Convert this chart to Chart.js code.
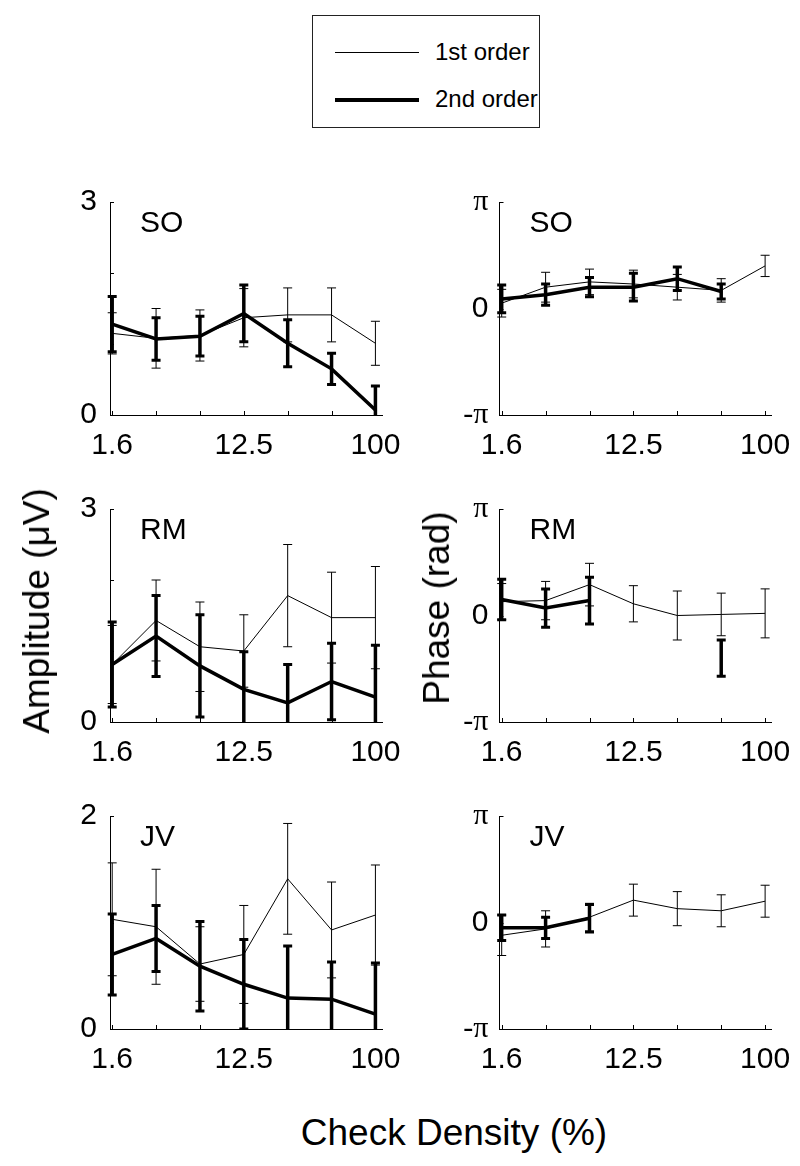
<!DOCTYPE html>
<html>
<head>
<meta charset="utf-8">
<script src="https://cdn.jsdelivr.net/npm/chart.js@4.4.0/dist/chart.umd.min.js"></script>
<style>
    body { margin: 0; background: #fff; font-family: "Liberation Sans", Arial, sans-serif; color: #000; }
    #page { position: relative; width: 800px; height: 1166px; overflow: hidden; }
    canvas.panel { position: absolute; }
    .legend { position: absolute; left: 312px; top: 15px; width: 228px; height: 113px; border: 1px solid #222; box-sizing: border-box; background: #fff; }
    .legend .ln { position: absolute; left: 22px; width: 84px; background: #000; }
    .legend .tx { position: absolute; left: 122px; font-size: 24px; line-height: 24px; white-space: nowrap; }
    .title { position: absolute; white-space: nowrap; transform: translate(-50%, -50%); }
    .title.rot { transform: translate(-50%, -50%) rotate(-90deg); }
</style>
</head>
<body>
<div id="page">
    <div class="legend">
        <div class="ln" style="top:36px; height:1px;"></div>
        <div class="tx" style="top:24px;">1st order</div>
        <div class="ln" style="top:82px; height:4px;"></div>
        <div class="tx" style="top:71px;">2nd order</div>
    </div>

    <canvas class="panel" id="p-so-amp"></canvas>
    <canvas class="panel" id="p-so-ph"></canvas>
    <canvas class="panel" id="p-rm-amp"></canvas>
    <canvas class="panel" id="p-rm-ph"></canvas>
    <canvas class="panel" id="p-jv-amp"></canvas>
    <canvas class="panel" id="p-jv-ph"></canvas>

    <div class="title rot" style="left:37px; top:611px; font-size:37px;">Amplitude (μV)</div>
    <div class="title rot" style="left:437px; top:608px; font-size:37px;">Phase (rad)</div>
    <div class="title" style="left:454px; top:1133px; font-size:37px;">Check Density (%)</div>
</div>

<script>
// x categories (check density, %) and which of them get a label
const densities = ['1.6', '3.1', '6.3', '12.5', '25', '50', '100'];
const shownTicks = ['1.6', '12.5', '100'];

// amplitude in microvolts, +/- error
const soAmp1 = [1.15, 1.08, 1.12, 1.37, 1.41, 1.41, 1.01];
const soAmp1Err = [0.29, 0.42, 0.36, 0.41, 0.38, 0.38, 0.31];
const soAmp2 = [1.28, 1.07, 1.11, 1.43, 1.01, 0.65, 0.07];
const soAmp2Err = [0.39, 0.30, 0.28, 0.40, 0.33, 0.22, 0.34];

const rmAmp1 = [0.81, 1.43, 1.06, 1.00, 1.78, 1.47, 1.47];
const rmAmp1Err = [0.55, 0.57, 0.63, 0.51, 0.72, 0.64, 0.72];
const rmAmp2 = [0.81, 1.21, 0.79, 0.46, 0.27, 0.57, 0.35];
const rmAmp2Err = [0.60, 0.57, 0.72, 0.53, 0.54, 0.54, 0.73];

const jvAmp1 = [1.03, 0.96, 0.61, 0.70, 1.41, 0.93, 1.07];
const jvAmp1Err = [0.53, 0.54, 0.35, 0.46, 0.52, 0.45, 0.47];
const jvAmp2 = [0.70, 0.85, 0.59, 0.42, 0.29, 0.28, 0.14];
const jvAmp2Err = [0.38, 0.31, 0.42, 0.42, 0.49, 0.35, 0.48];

// phase in units of pi
const soPh1 = [0.05, 0.20, 0.25, 0.23, 0.20, 0.17, 0.40];
const soPh1Err = [0.13, 0.14, 0.12, 0.13, 0.12, 0.11, 0.10];
const soPh2 = [0.09, 0.13, 0.20, 0.20, 0.28, 0.16, null];
const soPh2Err = [0.13, 0.10, 0.09, 0.13, 0.11, 0.07, null];

const rmPh1 = [0.13, 0.14, 0.29, 0.11, 0.00, 0.01, 0.02];
const rmPh1Err = [0.17, 0.18, 0.20, 0.17, 0.23, 0.20, 0.23];
const rmPh2 = [0.15, 0.07, 0.14, null, null, -0.40, null];
const rmPh2Err = [0.19, 0.18, 0.22, null, null, 0.17, null];

const jvPh1 = [-0.12, -0.06, 0.05, 0.21, 0.13, 0.11, 0.20];
const jvPh1Err = [0.19, 0.17, 0.13, 0.15, 0.16, 0.15, 0.15];
const jvPh2 = [-0.05, -0.05, 0.04, null, null, null, null];
const jvPh2Err = [0.12, 0.10, 0.13, null, null, null, null];

const ampTicks = { so: [0, 1, 2, 3], rm: [0, 1, 2, 3], jv: [0, 1, 2] };
const phaseTicks = [-1, 0, 1];
const phaseLabels = ['-π', '0', 'π'];

const FONT = '"Liberation Sans", Arial, sans-serif';
const SERIF = '"Liberation Serif", "Times New Roman", serif';

// error bars, inner tick marks and the subject label
const panelDecor = {
    id: 'panelDecor',
    afterDatasetsDraw(chart) {
        const { ctx, chartArea, scales: { x, y } } = chart;
        ctx.save();
        ctx.beginPath();
        ctx.rect(chartArea.left - 10, chartArea.top, chartArea.width + 20, chartArea.height);
        ctx.clip();
        ctx.strokeStyle = '#000';
        chart.data.datasets.forEach(ds => {
            ds.err.forEach((e, i) => {
                const v = ds.data[i].y;
                if (v === null || e === null) return;
                const px = x.getPixelForValue(i);
                const top = y.getPixelForValue(v + e);
                const bot = y.getPixelForValue(v - e);
                ctx.lineWidth = ds.borderWidth;
                ctx.beginPath();
                ctx.moveTo(px, top); ctx.lineTo(px, bot);
                ctx.stroke();
                ctx.lineWidth = ds.borderWidth > 2 ? 3 : 1;
                ctx.beginPath();
                ctx.moveTo(px - 4.5, top); ctx.lineTo(px + 4.5, top);
                ctx.moveTo(px - 4.5, bot); ctx.lineTo(px + 4.5, bot);
                ctx.stroke();
            });
        });
        ctx.restore();
    },
    afterDraw(chart) {
        const { ctx, chartArea, scales: { x, y } } = chart;
        ctx.save();
        ctx.strokeStyle = '#000';
        ctx.lineWidth = 1;
        ctx.beginPath();
        x.ticks.forEach(t => {
            const px = Math.round(x.getPixelForValue(t.value)) + 0.5;
            ctx.moveTo(px, chartArea.bottom); ctx.lineTo(px, chartArea.bottom - 4);
        });
        y.ticks.forEach(t => {
            const py = Math.round(y.getPixelForValue(t.value)) + 0.5;
            ctx.moveTo(chartArea.left, py); ctx.lineTo(chartArea.left + 4, py);
        });
        ctx.stroke();

        ctx.fillStyle = '#000';
        ctx.font = '30px ' + FONT;
        ctx.textBaseline = 'middle';
        ctx.fillText(chart.options.plugins.panelDecor.label, chartArea.left + 30, chartArea.top + 22);
        ctx.restore();
    }
};

function makePanel(id, opts) {
    const cv = document.getElementById(id);
    cv.width = 420;
    cv.height = 293;
    cv.style.left = opts.left + 'px';
    cv.style.top = (opts.areaTop - 30) + 'px';

    const toPoints = arr => arr.map((v, i) => ({ x: i, y: v }));

    return new Chart(cv.getContext('2d'), {
        type: 'line',
        data: {
            datasets: [
                {
                    label: '1st order',
                    data: toPoints(opts.first),
                    err: opts.firstErr,
                    borderColor: '#000',
                    borderWidth: 1,
                    pointRadius: 0,
                    tension: 0,
                    spanGaps: false
                },
                {
                    label: '2nd order',
                    data: toPoints(opts.second),
                    err: opts.secondErr,
                    borderColor: '#000',
                    borderWidth: 3.5,
                    pointRadius: 0,
                    tension: 0,
                    spanGaps: false
                }
            ]
        },
        options: {
            responsive: false,
            animation: false,
            layout: { autoPadding: false, padding: { top: 30, right: opts.padRight, left: 0, bottom: 0 } },
            plugins: {
                legend: { display: false },
                tooltip: { enabled: false },
                panelDecor: { label: opts.label }
            },
            scales: {
                x: {
                    type: 'linear',
                    min: -0.05,
                    max: 6.15,
                    grid: { display: false },
                    border: { display: true, color: '#000', width: 1 },
                    afterBuildTicks: s => { s.ticks = densities.map((d, i) => ({ value: i })); },
                    afterFit: s => { s.height = 50; },
                    ticks: {
                        autoSkip: false,
                        maxRotation: 0,
                        padding: 5,
                        color: '#000',
                        font: { family: FONT, size: 30 },
                        callback: v => shownTicks.includes(densities[v]) ? densities[v] : ''
                    }
                },
                y: {
                    type: 'linear',
                    min: opts.yMin,
                    max: opts.yMax,
                    grid: { display: false },
                    border: { display: true, color: '#000', width: 1 },
                    afterBuildTicks: s => { s.ticks = opts.yTicks.map(v => ({ value: v })); },
                    afterFit: s => { s.width = opts.yWidth; },
                    ticks: {
                        autoSkip: false,
                        padding: opts.phase ? 3 : 5,
                        color: '#000',
                        font: c => ({
                            family: opts.phase && c.tick && c.tick.value !== 0 ? SERIF : FONT,
                            size: 30
                        }),
                        callback: v => opts.yLabel(v)
                    }
                }
            }
        },
        plugins: [panelDecor]
    });
}

const rowTops = [202, 509, 816];
const leftCol = { left: 0, yWidth: 110, padRight: 38 };
const rightCol = { left: 380, yWidth: 119.5, padRight: 28.3 };

function ampPanel(id, row, label, a1, e1, a2, e2, ticks) {
    const top = ticks[ticks.length - 1];
    makePanel(id, Object.assign({}, leftCol, {
        areaTop: rowTops[row], label: label,
        first: a1, firstErr: e1, second: a2, secondErr: e2,
        yMin: 0, yMax: top, yTicks: ticks,
        yLabel: v => (v === 0 || v === top) ? String(v) : ''
    }));
}

function phasePanel(id, row, label, p1, e1, p2, e2) {
    makePanel(id, Object.assign({}, rightCol, {
        areaTop: rowTops[row], label: label, phase: true,
        first: p1, firstErr: e1, second: p2, secondErr: e2,
        yMin: -1, yMax: 1, yTicks: phaseTicks,
        yLabel: v => phaseLabels[phaseTicks.indexOf(v)]
    }));
}

ampPanel('p-so-amp', 0, 'SO', soAmp1, soAmp1Err, soAmp2, soAmp2Err, ampTicks.so);
ampPanel('p-rm-amp', 1, 'RM', rmAmp1, rmAmp1Err, rmAmp2, rmAmp2Err, ampTicks.rm);
ampPanel('p-jv-amp', 2, 'JV', jvAmp1, jvAmp1Err, jvAmp2, jvAmp2Err, ampTicks.jv);

phasePanel('p-so-ph', 0, 'SO', soPh1, soPh1Err, soPh2, soPh2Err);
phasePanel('p-rm-ph', 1, 'RM', rmPh1, rmPh1Err, rmPh2, rmPh2Err);
phasePanel('p-jv-ph', 2, 'JV', jvPh1, jvPh1Err, jvPh2, jvPh2Err);
</script>
</body>
</html>
